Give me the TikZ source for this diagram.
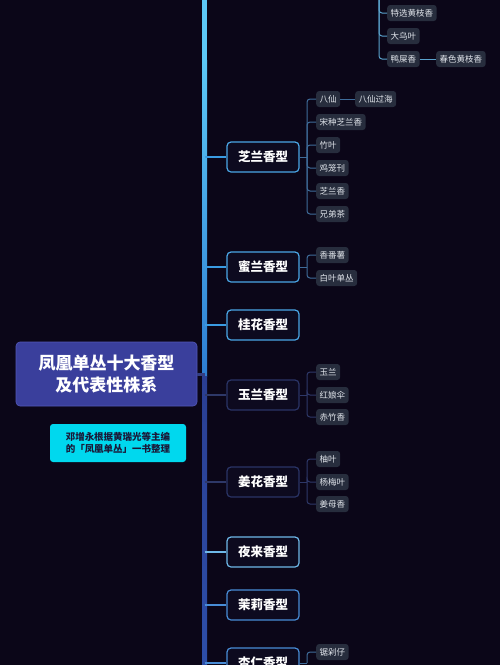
\documentclass[tikz,border=0pt]{standalone}
\usepackage{fontspec}
\setmainfont{Noto Sans CJK SC}
\definecolor{bg}{HTML}{0B0618}
\definecolor{mainfill}{HTML}{0D0A1F}
\definecolor{mainc}{HTML}{4AA6E6}
\definecolor{dimc}{HTML}{2A3466}
\definecolor{rootfill}{HTML}{3A3F9C}
\definecolor{rootedge}{HTML}{5358B8}
\definecolor{rootlink}{HTML}{343E82}
\definecolor{notefill}{HTML}{00D8EE}
\definecolor{notetext}{HTML}{1A1838}
\definecolor{leaffill}{HTML}{272D3D}
\definecolor{leaftext}{HTML}{E2E6EC}
\definecolor{linkc}{HTML}{3F6C9A}
\definecolor{toplink}{HTML}{5AA2CC}
\definecolor{dimlink}{HTML}{2E3868}
\definecolor{brc}{HTML}{3A9BE2}
\definecolor{lowc}{HTML}{488CD6}
\definecolor{ylc}{HTML}{6EB8E8}
\definecolor{trunkA}{HTML}{5CC8F6}
\definecolor{trunkB}{HTML}{2D7DD2}
\definecolor{trunkC}{HTML}{2A3E92}
\definecolor{trunkD}{HTML}{2D4EA8}
\begin{document}
\begin{tikzpicture}[x=1pt,y=-1pt,
  main/.style={draw=mainc, line width=1.2pt, fill=mainfill, rounded corners=4pt,
    minimum width=72pt, minimum height=30pt, inner sep=0pt, text=white,
    font=\bfseries\fontsize{12.5}{14}\selectfont},
  dimmain/.style={main, draw=dimc},
  leaf/.style={fill=leaffill, rounded corners=3pt, text=leaftext, anchor=west,
    font=\fontsize{8.5}{10}\selectfont, inner xsep=3.5pt, inner ysep=0pt, minimum height=16pt},
  lk/.style={draw=linkc, line width=1pt, rounded corners=3pt},
  toplk/.style={lk, draw=toplink},
  dimlk/.style={lk, draw=dimlink},
  br/.style={draw=brc, line width=1.6pt},
  dimbr/.style={draw=dimlink, line width=1.6pt},
  lowbr/.style={draw=lowc, line width=1.6pt}
]
\fill[bg] (0,0) rectangle (500,665);
\useasboundingbox (0,0) rectangle (500,665);

% trunk
\fill[trunkA] (202,0) rectangle (207,60);
\shade[top color=trunkA, bottom color=trunkB] (202,60) rectangle (207,376);
\shade[top color=trunkC, bottom color=trunkD] (202,376) rectangle (207,665);
\coordinate (T) at (204.5,0);

% root and note
\node[fill=rootfill, draw=rootedge, line width=0.6pt, rounded corners=4pt,
  minimum width=181pt, minimum height=64pt, inner sep=0pt, text=white, align=center,
  font=\bfseries\fontsize{17}{22}\selectfont] (root) at (106.5,374) {凤凰单丛十大香型\\及代表性株系};
\draw[draw=rootlink, line width=3pt] (root.east) -- (root.east -| T);
\node[fill=notefill, rounded corners=3pt, minimum width=136pt, minimum height=38pt,
  inner sep=0pt, text=notetext, align=center,
  font=\bfseries\fontsize{9.5}{11.5}\selectfont] (note) at (118,443) {邓增永根据黄瑞光等主编\\的「凤凰单丛」一书整理};

% main nodes
\node[main] (zl) at (263,157) {芝兰香型};
\node[main] (ml) at (263,267) {蜜兰香型};
\node[main] (gh) at (263,325) {桂花香型};
\node[dimmain] (yl) at (263,395) {玉兰香型};
\node[dimmain] (jh) at (263,482) {姜花香型};
\node[main, draw=ylc] (ylx) at (263,552) {夜来香型};
\node[main, draw=lowc] (ml2) at (263,605) {茉莉香型};
\node[main, draw=lowc] (xr) at (263,663) {杏仁香型};

\draw[br] (zl.west -| T) -- (zl.west);
\draw[br] (ml.west -| T) -- (ml.west);
\draw[br] (gh.west -| T) -- (gh.west);
\draw[dimbr] (yl.west -| T) -- (yl.west);
\draw[dimbr] (jh.west -| T) -- (jh.west);
\draw[draw=ylc, line width=1.6pt] (ylx.west -| T) -- (ylx.west);
\draw[lowbr] (ml2.west -| T) -- (ml2.west);
\draw[lowbr] (xr.west -| T) -- (xr.west);

% top group
\coordinate (tsp) at (379,-4);
\node[leaf] (t1) at (387,13) {特选黄枝香};
\node[leaf] (t2) at (387,36) {大乌叶};
\node[leaf] (t3) at (387,59) {鸭屎香};
\node[leaf] (t4) at (436,59) {春色黄枝香};
\foreach \c in {t1,t2,t3} \draw[toplk] (tsp) |- (\c.west);
\draw[toplk] (t3.east) -- (t4.west);

% zhilan
\coordinate (zsp) at (307,157);
\node[leaf] (z1) at (316,99) {八仙};
\node[leaf] (z1a) at (355,99) {八仙过海};
\node[leaf] (z2) at (316,122) {宋种芝兰香};
\node[leaf] (z3) at (316,145) {竹叶};
\node[leaf] (z4) at (316,168) {鸡笼刊};
\node[leaf] (z5) at (316,191) {芝兰香};
\node[leaf] (z6) at (316,214) {兄弟茶};
\draw[lk] (zl.east) -- (zsp);
\foreach \c in {z1,z2,z3,z4,z5,z6} \draw[lk] (zsp) |- (\c.west);
\draw[lk] (z1.east) -- (z1a.west);

% milan
\coordinate (msp) at (307,267);
\node[leaf] (m1) at (316,255) {香番薯};
\node[leaf] (m2) at (316,278) {白叶单丛};
\draw[lk] (ml.east) -- (msp);
\foreach \c in {m1,m2} \draw[lk] (msp) |- (\c.west);

% yulan
\coordinate (ysp) at (307,395);
\node[leaf] (y1) at (316,372) {玉兰};
\node[leaf] (y2) at (316,395) {红娘伞};
\node[leaf] (y3) at (316,417) {赤竹香};
\draw[dimlk] (yl.east) -- (ysp);
\foreach \c in {y1,y2,y3} \draw[dimlk] (ysp) |- (\c.west);

% jianghua
\coordinate (jsp) at (307,482);
\node[leaf] (j1) at (316,459) {柚叶};
\node[leaf] (j2) at (316,482) {杨梅叶};
\node[leaf] (j3) at (316,504) {姜母香};
\draw[dimlk] (jh.east) -- (jsp);
\foreach \c in {j1,j2,j3} \draw[dimlk] (jsp) |- (\c.west);

% xingren
\coordinate (xsp) at (307,663);
\node[leaf] (x1) at (316,652) {锯剁仔};
\draw[lk] (xr.east) -- (xsp);
\draw[lk] (xsp) |- (x1.west);
\end{tikzpicture}
\end{document}
